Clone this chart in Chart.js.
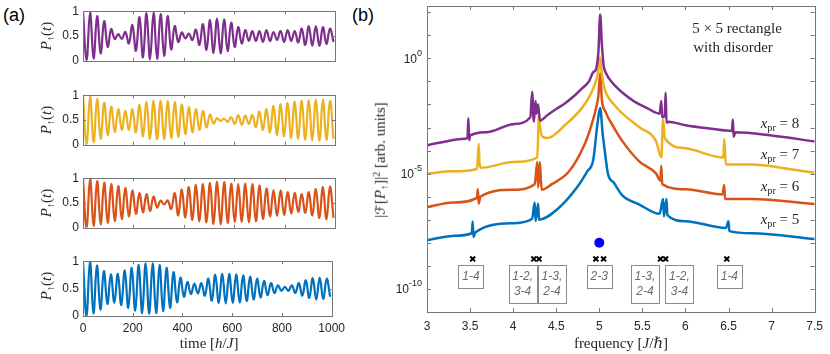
<!DOCTYPE html>
<html>
<head>
<meta charset="utf-8">
<script src="https://cdn.jsdelivr.net/npm/chart.js@4.4.0/dist/chart.umd.min.js"></script>
<style>
  html, body { margin: 0; padding: 0; background: #fff; }
  #wrap { position: relative; width: 830px; height: 354px; overflow: hidden; }
  canvas { position: absolute; }
  .txt { position: absolute; transform: translate(-50%, -50%); white-space: nowrap; line-height: 1; color: #262626;
         font-family: "Liberation Serif", "DejaVu Serif", serif; font-size: 15px; }
  .txt sub { font-size: 68%; vertical-align: -0.3em; }
  .txt sup { font-size: 68%; vertical-align: 0.5em; }
  .txt .scr { font-family: "DejaVu Serif", "DejaVu Sans", serif; font-style: italic; font-size: 90%; }
  .panel { position: absolute; font-family: "Liberation Sans", Arial, sans-serif; font-size: 18px; color: #000; }
</style>
</head>
<body>
<div id="wrap">
  <div class="panel" style="left:3px;top:5px;">(a)</div>
  <div class="panel" style="left:352px;top:5px;">(b)</div>
  <canvas id="a0"></canvas>
  <canvas id="a1"></canvas>
  <canvas id="a2"></canvas>
  <canvas id="a3"></canvas>
  <canvas id="b"></canvas>
</div>
<script>
// ---- panel (a): P_up(t), peaks / troughs every half period ----
const timeSamples = [0, 14, 28, 42, 56, 70, 84, 98, 112, 126, 140, 154, 168, 182, 196, 210, 224, 238,
  252, 266, 280, 294, 308, 322, 336, 350, 364, 378, 392, 406, 420, 434, 448, 462, 476, 490, 504, 518,
  532, 546, 560, 574, 588, 602, 616, 630, 644, 658, 672, 686, 700, 714, 728, 742, 756, 770, 784, 798,
  812, 826, 840, 854, 868, 882, 896, 910, 924, 938, 952, 966, 980, 994];

const pUp8 = [1.0, 0.0, .97, .05, .9, .15, .8, .28, .64, .44, .54, .44, .58, .35, .72, .2, .88, .07,
  .96, .03, .97, .04, .94, .1, .9, .23, .7, .38, .57, .45, .55, .42, .63, .32, .74, .22,
  .82, .16, .85, .15, .83, .2, .77, .28, .68, .35, .62, .4, .6, .4, .6, .38, .62, .4,
  .58, .42, .6, .38, .62, .4, .6, .37, .65, .32, .7, .3, .7, .3, .68, .34, .65, .38];

const pUp7 = [1.0, 0.0, .97, .05, .92, .12, .85, .2, .77, .26, .72, .3, .69, .3, .72, .25, .8, .17,
  .86, .12, .89, .11, .89, .11, .88, .13, .86, .16, .81, .22, .76, .25, .72, .3, .68, .35,
  .61, .43, .54, .48, .53, .46, .56, .42, .6, .4, .59, .42, .6, .36, .67, .3, .72, .25,
  .78, .2, .82, .17, .84, .14, .87, .12, .89, .1, .9, .09, .91, .08, .91, .1, .89, .12];

const pUp6 = [1.0, 0.0, .98, .04, .94, .07, .91, .1, .88, .14, .84, .18, .8, .23, .75, .28, .7, .31,
  .68, .34, .63, .41, .55, .47, .55, .38, .7, .25, .77, .21, .82, .16, .86, .13, .88, .11,
  .9, .08, .93, .07, .92, .1, .89, .12, .88, .12, .89, .11, .88, .13, .85, .18, .79, .23,
  .76, .24, .75, .26, .72, .29, .7, .32, .68, .3, .72, .25, .78, .2, .82, .17, .83, .2];

const pUp5 = [1.0, 0.0, .99, .05, .92, .12, .82, .22, .76, .24, .77, .2, .83, .15, .88, .1, .93, .05,
  .96, .04, .96, .05, .93, .09, .88, .15, .8, .25, .7, .35, .62, .4, .59, .41, .6, .37,
  .68, .28, .75, .24, .77, .23, .77, .24, .76, .25, .74, .27, .72, .3, .68, .34, .64, .38,
  .6, .42, .56, .46, .53, .46, .56, .42, .6, .37, .65, .33, .69, .3, .7, .31, .68, .35];

const timeTicks = [0, 200, 400, 600, 800, 1000];
const probTicks = [0, 0.5, 1];

// ---- panel (b): spectra |F[P_up]|^2 ----
const freq8 = [3.00, 3.20, 3.40, 3.47, 3.48, 3.49, 3.50, 3.70, 4.00, 4.20, 4.22, 4.24, 4.26, 4.27, 4.29,
  4.31, 4.40, 4.50, 4.60, 4.70, 4.80, 4.88, 4.93, 4.96, 4.99, 5.01, 5.03, 5.05, 5.08, 5.15, 5.27,
  5.40, 5.55, 5.70, 5.72, 5.73, 5.76, 5.77, 5.78, 5.80, 6.00, 6.30, 6.54, 6.55, 6.56, 6.58, 7.00, 7.50];
const spec8 = [1.7e-4, 2.4e-4, 3.2e-4, 3.5e-4, 2.5e-3, 2.8e-4, 4.5e-4, 6.3e-4, 1.4e-3, 2.8e-3, 3.5e-2,
  1.8e-3, 1.4e-2, 4.0e-3, 1.0e-2, 2.0e-3, 3.5e-3, 6.3e-3, 1.1e-2, 2.2e-2, 5.0e-2, 0.1, 0.25, 0.32,
  2.0, 79, 4.0, 0.5, 0.22, 8.9e-2, 3.2e-2, 1.4e-2, 7.1e-3, 4.0e-3, 1.4e-2, 2.8e-3, 3.2e-3, 3.2e-2,
  1.6e-3, 1.8e-3, 1.26e-3, 8.9e-4, 7.1e-4, 2.2e-3, 4.0e-4, 6.3e-4, 4.5e-4, 2.5e-4];

const freq7 = [3.00, 3.30, 3.58, 3.60, 3.61, 3.63, 4.00, 4.28, 4.30, 4.31, 4.34, 4.40, 4.60, 4.80, 4.90,
  4.96, 4.99, 5.01, 5.03, 5.06, 5.10, 5.17, 5.27, 5.47, 5.66, 5.72, 5.74, 5.76, 6.00, 6.44, 6.45,
  6.47, 6.77, 7.20, 7.50];
const spec7 = [1.0e-5, 1.26e-5, 1.6e-5, 2.0e-4, 2.5e-5, 1.8e-5, 3.2e-5, 5.0e-5, 3.7e-3, 1.26e-3, 4.0e-4,
  3.5e-4, 1.26e-3, 7.1e-3, 2.8e-2, 0.1, 0.3, 1.1, 0.2, 5.0e-2, 2.2e-2, 1.0e-2, 4.0e-3, 1.0e-3, 2.5e-4,
  5.0e-5, 2.2e-3, 3.5e-4, 1.26e-4, 5.0e-5, 3.2e-4, 2.5e-5, 2.5e-5, 1.6e-5, 1.1e-5];

const freq6 = [3.00, 3.30, 3.58, 3.59, 3.60, 3.62, 4.00, 4.25, 4.28, 4.29, 4.31, 4.33, 4.45, 4.65, 4.83,
  4.90, 4.96, 4.99, 5.01, 5.03, 5.07, 5.17, 5.27, 5.46, 5.66, 5.71, 5.72, 5.73, 6.00, 6.43, 6.45,
  6.46, 6.77, 7.50];
const spec6 = [3.5e-7, 5.6e-7, 8.9e-7, 2.1e-6, 5.0e-7, 1.0e-6, 2.0e-6, 3.5e-6, 3.2e-5, 2.5e-6, 3.2e-5,
  2.0e-6, 3.5e-6, 1.26e-5, 1.9e-4, 1.0e-3, 6.3e-3, 2.5e-2, 0.22, 1.6e-2, 5.0e-3, 1.0e-3, 2.5e-4,
  3.5e-5, 1.0e-5, 5.0e-6, 2.2e-5, 3.5e-6, 2.1e-6, 1.26e-6, 3.2e-6, 8.0e-7, 8.0e-7, 4.8e-7];

const freq5 = [3.00, 3.30, 3.52, 3.53, 3.54, 3.56, 4.00, 4.22, 4.25, 4.26, 4.29, 4.30, 4.51, 4.74, 4.86,
  4.93, 4.98, 5.01, 5.04, 5.07, 5.10, 5.17, 5.27, 5.46, 5.70, 5.74, 5.75, 5.78, 5.79, 6.00, 6.47,
  6.50, 6.51, 6.77, 7.50];
const spec5 = [1.3e-8, 2.0e-8, 2.6e-8, 8.5e-8, 1.8e-8, 2.8e-8, 7.1e-8, 1.1e-7, 5.6e-7, 8.9e-8, 5.0e-7,
  1.0e-7, 2.8e-7, 2.5e-6, 1.26e-5, 4.0e-5, 1.6e-3, 7.1e-3, 5.0e-4, 6.3e-5, 1.0e-5, 4.0e-6, 1.1e-6,
  4.7e-7, 1.8e-7, 8.0e-7, 1.4e-7, 8.0e-7, 1.6e-7, 8.7e-8, 4.4e-8, 8.7e-8, 3.2e-8, 2.6e-8, 1.45e-8];

// transition markers and the bare-qubit frequency dot
const transitionFreqs = [3.53, 4.24, 4.30, 4.96, 5.05, 5.71, 5.77, 6.48];
const transitionLevel = 2e-9;
const qubitFreq = [5.0];
const qubitLevel = 1e-8;
const transitionLabels = [
  { f: 3.51, lines: ['1-4'] },
  { f: 4.11, lines: ['1-2,', '3-4'] },
  { f: 4.45, lines: ['1-3,', '2-4'] },
  { f: 5.00, lines: ['2-3'] },
  { f: 5.53, lines: ['1-3,', '2-4'] },
  { f: 5.93, lines: ['1-2,', '3-4'] },
  { f: 6.51, lines: ['1-4'] }
];
const freqTicks = [3, 3.5, 4, 4.5, 5, 5.5, 6, 6.5, 7, 7.5];
const decadeTicks = [1e-11, 1e-10, 1e-9, 1e-8, 1e-7, 1e-6, 1e-5, 1e-4, 1e-3, 1e-2, 1e-1, 1, 10, 100];
const labeledDecades = [1, 1e-5, 1e-10];
const labeledExponents = ['0', '-5', '-10'];

const colors = { x8: '#7E2F8E', x7: '#EDB120', x6: '#D95319', x5: '#0072BD' };
const FONT = '"Liberation Sans", Arial, sans-serif';
const TICK_COLOR = '#262626';
const FRAME_COLOR = '#767676';

Chart.defaults.font.family = FONT;
Chart.defaults.color = TICK_COLOR;

// box around axes with inward ticks, MATLAB style
const boxFrame = {
  id: 'boxFrame',
  afterDatasetsDraw(chart, args, opts) {
    const { ctx, chartArea: a, scales } = chart;
    const len = opts.len || 3;
    ctx.save();
    ctx.strokeStyle = FRAME_COLOR;
    ctx.lineWidth = 1;
    ctx.beginPath();
    scales.x.ticks.forEach(t => {
      const px = Math.round(scales.x.getPixelForValue(t.value)) + 0.5;
      ctx.moveTo(px, a.bottom); ctx.lineTo(px, a.bottom - len);
      ctx.moveTo(px, a.top); ctx.lineTo(px, a.top + len);
    });
    scales.y.ticks.forEach(t => {
      const py = Math.round(scales.y.getPixelForValue(t.value)) + 0.5;
      ctx.moveTo(a.left, py); ctx.lineTo(a.left + len, py);
      ctx.moveTo(a.right, py); ctx.lineTo(a.right - len, py);
    });
    ctx.stroke();
    ctx.strokeRect(Math.round(a.left) + 0.5, Math.round(a.top) + 0.5,
      Math.round(a.right - a.left), Math.round(a.bottom - a.top));
    ctx.restore();
  }
};

const plainNumber = v => String(v);

// ---- panel (a) ----
const seriesA = [pUp8, pUp7, pUp6, pUp5];
const colorA = [colors.x8, colors.x7, colors.x6, colors.x5];
const plotTops = [6, 90, 173, 256];
const plotH = 60;

seriesA.forEach((vals, k) => {
  const cv = document.getElementById('a' + k);
  const last = k === 3;
  const h = last ? 354 - (plotTops[k] - 6) : plotH + 12;
  cv.width = 350; cv.height = h;
  cv.style.left = '0px'; cv.style.top = (plotTops[k] - 6) + 'px';
  new Chart(cv, {
    type: 'line',
    data: {
      datasets: [{
        data: timeSamples.map((t, i) => ({ x: t, y: vals[i] })),
        borderColor: colorA[k],
        borderWidth: 2.2,
        pointRadius: 0,
        tension: 0.4,
        fill: false
      }]
    },
    options: {
      responsive: false,
      animation: false,
      devicePixelRatio: 1,
      layout: { padding: { top: 6, left: 0, right: 15, bottom: last ? 0 : 6 } },
      plugins: { legend: { display: false }, tooltip: { enabled: false }, boxFrame: { len: 3 } },
      scales: {
        x: {
          type: 'linear', min: 0, max: 1000,
          afterBuildTicks: s => { s.ticks = timeTicks.map(v => ({ value: v })); },
          afterFit: s => { s.height = last ? h - 6 - plotH : 0; },
          grid: { display: false, drawTicks: false },
          border: { display: false },
          ticks: { display: last, padding: 5, font: { size: 12 }, color: TICK_COLOR, maxRotation: 0, callback: plainNumber }
        },
        y: {
          min: 0, max: 1,
          afterBuildTicks: s => { s.ticks = probTicks.map(v => ({ value: v })); },
          afterFit: s => { s.width = 83; },
          grid: { display: false, drawTicks: false },
          border: { display: false },
          ticks: { padding: 4, font: { size: 12 }, color: TICK_COLOR, callback: plainNumber }
        }
      }
    },
    plugins: [boxFrame]
  });
});

// ---- panel (b) ----
const decadeLabels = {
  id: 'decadeLabels',
  afterDraw(chart) {
    const { ctx, chartArea: a, scales } = chart;
    ctx.save();
    ctx.fillStyle = TICK_COLOR;
    ctx.textBaseline = 'middle';
    labeledDecades.forEach((v, i) => {
      const py = scales.y.getPixelForValue(v);
      const right = a.left - 5;
      ctx.font = '9px ' + FONT;
      ctx.textAlign = 'right';
      const ew = ctx.measureText(labeledExponents[i]).width;
      ctx.fillText(labeledExponents[i], right, py - 5);
      ctx.font = '12px ' + FONT;
      ctx.fillText('10', right - ew, py + 1);
    });
    ctx.restore();
  }
};

const labelBoxes = {
  id: 'labelBoxes',
  afterDatasetsDraw(chart) {
    const { ctx, scales } = chart;
    ctx.save();
    ctx.strokeStyle = '#8a8a8a';
    ctx.lineWidth = 1;
    ctx.fillStyle = '#6a6a6a';
    ctx.font = 'italic 12px ' + FONT;
    ctx.textAlign = 'center';
    ctx.textBaseline = 'middle';
    transitionLabels.forEach(b => {
      const cx = scales.x.getPixelForValue(b.f);
      const w = b.lines.length > 1 ? 28 : 25;
      const top = 265;
      const hgt = b.lines.length > 1 ? 38 : 23;
      ctx.strokeRect(Math.round(cx - w / 2) + 0.5, top + 0.5, w, hgt);
      b.lines.forEach((s, j) => ctx.fillText(s, cx, top + 12 + j * 15));
    });
    ctx.restore();
  }
};

const cvB = document.getElementById('b');
cvB.width = 490; cvB.height = 354;
cvB.style.left = '340px'; cvB.style.top = '0px';

const specLine = (fs, vs, color) => ({
  data: fs.map((f, i) => ({ x: f, y: vs[i] })),
  borderColor: color,
  borderWidth: 2.5,
  pointRadius: 0,
  cubicInterpolationMode: 'monotone',
  fill: false
});

new Chart(cvB, {
  type: 'line',
  data: {
    datasets: [
      {
        data: transitionFreqs.map(f => ({ x: f, y: transitionLevel })),
        showLine: false,
        pointStyle: 'crossRot',
        pointRadius: 3.5,
        pointBorderWidth: 2,
        pointBorderColor: '#000',
        pointBackgroundColor: '#000'
      },
      {
        data: qubitFreq.map(f => ({ x: f, y: qubitLevel })),
        showLine: false,
        pointStyle: 'circle',
        pointRadius: 5,
        pointBorderWidth: 0,
        pointBackgroundColor: '#0000FF'
      },
      specLine(freq8, spec8, colors.x8),
      specLine(freq7, spec7, colors.x7),
      specLine(freq6, spec6, colors.x6),
      specLine(freq5, spec5, colors.x5)
    ]
  },
  options: {
    responsive: false,
    animation: false,
    devicePixelRatio: 1,
    layout: { padding: { top: 5, left: 0, right: 14, bottom: 0 } },
    plugins: { legend: { display: false }, tooltip: { enabled: false }, boxFrame: { len: 4 } },
    scales: {
      x: {
        type: 'linear', min: 3, max: 7.5,
        afterBuildTicks: s => { s.ticks = freqTicks.map(v => ({ value: v })); },
        afterFit: s => { s.height = 42; },
        grid: { display: false, drawTicks: false },
        border: { display: false },
        ticks: { padding: 7, font: { size: 12 }, color: TICK_COLOR, maxRotation: 0, callback: plainNumber }
      },
      y: {
        type: 'logarithmic', min: 1e-11, max: 186,
        afterBuildTicks: s => { s.ticks = decadeTicks.map(v => ({ value: v })); },
        afterFit: s => { s.width = 87; },
        grid: { display: false, drawTicks: false },
        border: { display: false },
        ticks: { display: false }
      }
    }
  },
  plugins: [boxFrame, decadeLabels, labelBoxes]
});

// ---- text (axis titles and annotations) ----
const wrap = document.getElementById('wrap');
function addText(html, x, y, rotate, css) {
  const d = document.createElement('div');
  d.className = 'txt';
  d.innerHTML = html;
  d.style.left = x + 'px';
  d.style.top = y + 'px';
  if (rotate) d.style.transform = 'translate(-50%, -50%) rotate(-90deg)';
  if (css) Object.assign(d.style, css);
  wrap.appendChild(d);
}
plotTops.forEach(t => addText('<i>P</i><sub>&#8593;</sub>(<i>t</i>)', 48, t + plotH / 2, true));
addText('time [<i>h</i>/<i>J</i>]', 209, 343);
addText('|<span class="scr">&#8497;</span>[<i>P</i><sub>&#8593;</sub>]|<sup>2</sup> [arb. units]', 381, 160, true);
addText('frequency [<i>J</i>/<i>&#8463;</i>]', 621, 343);
addText('5 &#215; 5 rectangle', 737, 28);
addText('with disorder', 733, 47);
[['8', 125], ['7', 156], ['6', 188], ['5', 221]].forEach(([n, y]) =>
  addText('<i>x</i><sub>pr</sub> = ' + n, 780, y));
</script>
</body>
</html>
